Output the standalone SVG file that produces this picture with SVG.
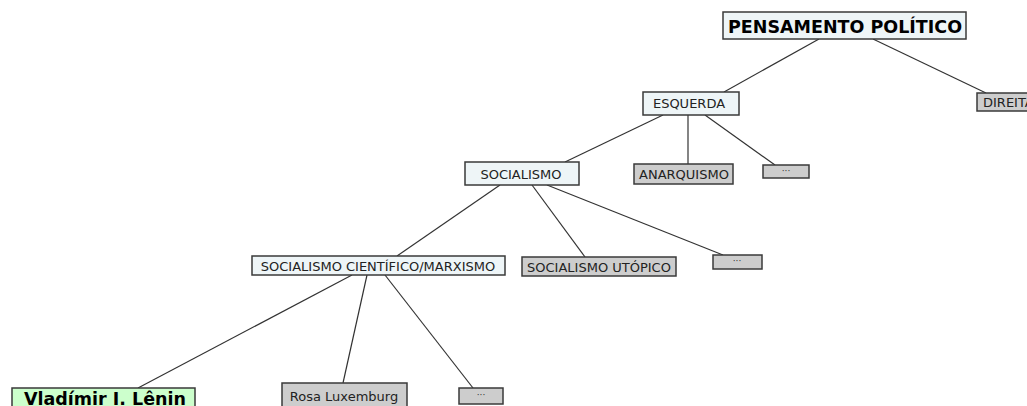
<svg xmlns="http://www.w3.org/2000/svg" width="1027" height="406" viewBox="0 0 1027 406">
<style>
.box{stroke:#3a3a3a;stroke-width:1.5}
.lt{fill:#eef5f7}
.gr{fill:#cdcdcd}
.gn{fill:#ccffcc}
.t{font-family:"DejaVu Sans",Verdana,sans-serif;font-size:13px;fill:#222;text-anchor:middle}
.d{font-family:"DejaVu Sans",Verdana,sans-serif;font-size:9px;fill:#333;text-anchor:middle}
.b{font-family:"DejaVu Sans",Verdana,sans-serif;font-weight:bold;font-size:17.5px;fill:#000;text-anchor:middle}
.c{stroke:#333;stroke-width:1.2;fill:none}
</style>
<rect width="1027" height="406" fill="#fff"/>
<g id="connectors">
<line class="c" x1="819" y1="39" x2="724" y2="92"/>
<line class="c" x1="873" y1="39" x2="986" y2="93"/>
<line class="c" x1="663" y1="115" x2="565" y2="162"/>
<line class="c" x1="688" y1="115" x2="688" y2="164"/>
<line class="c" x1="705" y1="115" x2="775" y2="165"/>
<line class="c" x1="500" y1="185" x2="397" y2="256"/>
<line class="c" x1="532" y1="185" x2="585" y2="257"/>
<line class="c" x1="547" y1="185" x2="723" y2="255"/>
<line class="c" x1="352" y1="275" x2="138" y2="388"/>
<line class="c" x1="367" y1="275" x2="343" y2="383"/>
<line class="c" x1="385" y1="275" x2="473" y2="388"/>
</g>
<g id="pensamento"><rect class="box lt" x="723" y="12" width="243" height="27"/><text class="b" x="845" y="33">PENSAMENTO POLÍTICO</text></g>
<g id="esquerda"><rect class="box lt" x="643" y="92" width="96" height="23"/><text class="t" x="689" y="108">ESQUERDA</text></g>
<g id="direita"><rect class="box gr" x="977" y="93" width="60" height="18"/><text class="t" x="983" y="107" style="text-anchor:start">DIREITA</text></g>
<g id="socialismo"><rect class="box lt" x="465" y="162" width="114" height="23"/><text class="t" x="521" y="179">SOCIALISMO</text></g>
<g id="anarquismo"><rect class="box gr" x="634" y="164" width="99" height="20"/><text class="t" x="684" y="179">ANARQUISMO</text></g>
<g id="etc1"><rect class="box gr" x="763" y="165" width="46" height="13"/><text class="d" x="786" y="174">···</text></g>
<g id="cientifico"><rect class="box lt" x="252" y="256" width="253" height="19"/><text class="t" x="378" y="270.5">SOCIALISMO CIENTÍFICO/MARXISMO</text></g>
<g id="utopico"><rect class="box gr" x="522" y="257" width="154" height="19"/><text class="t" x="599" y="271.5">SOCIALISMO UTÓPICO</text></g>
<g id="etc2"><rect class="box gr" x="713" y="255" width="49" height="14"/><text class="d" x="737" y="264">···</text></g>
<g id="lenin"><rect class="box gn" x="12" y="388" width="183" height="24"/><text class="b" x="105" y="405">Vladímir I. Lênin</text></g>
<g id="rosa"><rect class="box gr" x="282" y="383" width="125" height="26"/><text class="t" x="344" y="401">Rosa Luxemburg</text></g>
<g id="etc3"><rect class="box gr" x="459" y="388" width="44" height="16"/><text class="d" x="481" y="398">···</text></g>
</svg>
